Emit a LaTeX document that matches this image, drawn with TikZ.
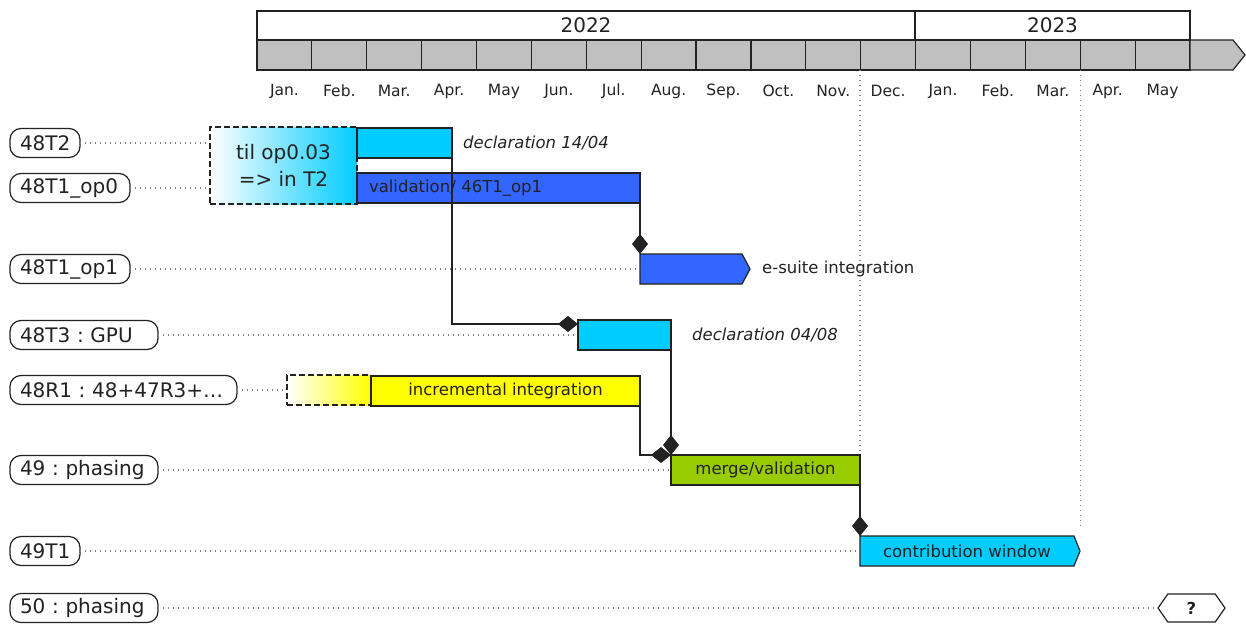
\documentclass[tikz,border=0pt]{standalone}
\usepackage{fontspec}
\setmainfont{DejaVu Sans}
\usetikzlibrary{arrows.meta,shapes.symbols,calc}
\definecolor{cyanbar}{HTML}{00CCFF}
\definecolor{bluebar}{HTML}{3366FF}
\definecolor{yellowbar}{HTML}{FFFF00}
\definecolor{greenbar}{HTML}{99CC00}
\definecolor{graycell}{HTML}{C0C0C0}
\definecolor{ink}{HTML}{222222}
\tikzset{
  rowlabel/.style={draw=ink, line width=1.2pt, rounded corners=11pt, fill=white, anchor=west,
    minimum height=29pt, inner xsep=10pt, inner ysep=0pt, outer sep=0pt, align=left, text=ink,
    font=\fontsize{20}{24}\selectfont},
  bar/.style={draw=ink, line width=1.2pt, anchor=west, minimum height=30pt, inner sep=0pt,
    outer sep=0pt, text=ink, font=\fontsize{16.5}{20}\selectfont},
  dashbox/.style={draw=ink, line width=1.2pt, dash pattern=on 6pt off 3pt, inner sep=0pt, outer sep=0pt},
  guide/.style={draw=gray, line width=1.2pt, dash pattern=on 1.2pt off 3.8pt},
  link/.style={draw=ink, line width=1.4pt, -{Diamond[length=20pt,width=16pt]}},
  cell/.style={draw=ink, line width=1.2pt, fill=graycell},
  yearbox/.style={draw=ink, line width=1.2pt, fill=white, inner sep=0pt, text=ink,
    font=\fontsize{20}{24}\selectfont},
  month/.style={text=ink, inner sep=0pt, font=\fontsize{15.5}{18}\selectfont},
  note/.style={anchor=west, inner sep=0pt, text=ink, font=\fontsize{16.5}{20}\selectfont},
}
\begin{document}
\frenchspacing
\begin{tikzpicture}[x=1pt,y=-1pt]
\useasboundingbox (0,0) rectangle (1246,624);
% timeline
\foreach \i in {0,...,16}
  \draw[cell] ({257+\i*54.882},40) rectangle ({257+(\i+1)*54.882},70);
\draw[cell] (1190,40) -- (1233,40) -- (1245,55) -- (1233,70) -- (1190,70) -- cycle;
\node[yearbox, minimum width=658pt, minimum height=29pt] (y2022) at (586,25.5) {2022};
\node[yearbox, minimum width=275pt, minimum height=29pt] (y2023) at (1052.5,25.5) {2023};
\foreach \m [count=\i from 0] in {Jan.,Feb.,Mar.,Apr.,May,Jun.,Jul.,Aug.,Sep.,Oct.,Nov.,Dec.,Jan.,Feb.,Mar.,Apr.,May}
  \node[month] (m\i) at ({257+(\i+0.5)*54.882},91) {\m};
% vertical guides
\coordinate (decTop) at (860,70);
\coordinate (decBot) at (860,536);
\coordinate (aprTop) at (1080.2,70);
\coordinate (aprBot) at (1080.2,528);
\draw[guide] (decTop) -- (decBot);
\draw[guide] (aprTop) -- (aprBot);
% row labels
\node[rowlabel, text width=50pt] (l48T2) at (10,143) {48T2};
\node[rowlabel, text width=100pt] (l48T1op0) at (10,188) {48T1\_op0};
\node[rowlabel, text width=100pt] (l48T1op1) at (10,269) {48T1\_op1};
\node[rowlabel, text width=128pt] (l48T3) at (10,335) {48T3 : GPU};
\node[rowlabel, text width=207pt] (l48R1) at (10,390) {48R1 : 48+47R3+…};
\node[rowlabel, text width=128pt] (l49) at (10,470) {49 : phasing};
\node[rowlabel, text width=50pt] (l49T1) at (10,551) {49T1};
\node[rowlabel, text width=128pt] (l50) at (10,608) {50 : phasing};
% bars
\node[dashbox, left color=white, right color=cyanbar, minimum width=147pt, minimum height=77pt,
  anchor=north west, align=center, text=ink, font=\fontsize{20}{27}\selectfont] (til) at (210,127) {til op0.03\\=> in T2};
\node[bar, fill=cyanbar, minimum width=95pt] (b48T2) at (357,143) {};
\node[bar, fill=bluebar, text width=259pt, inner xsep=12pt, align=left] (b48T1op0) at (357,188) {validation/ 46T1\_op1};
\node[bar, signal, signal to=east, signal pointer angle=124, fill=bluebar, minimum width=110pt] (b48T1op1) at (640,269) {};
\node[bar, fill=cyanbar, minimum width=93pt] (b48T3) at (578,335) {};
\node[dashbox, left color=white, right color=yellowbar, minimum width=84pt, minimum height=30pt, anchor=west] (pre48R1) at (287,390) {};
\node[bar, fill=yellowbar, minimum width=269pt] (b48R1) at (371,391) {incremental integration};
\node[bar, fill=greenbar, minimum width=189pt] (bmerge) at (671,470) {merge/validation};
\node[bar, signal, signal to=east, signal pointer angle=136, fill=cyanbar, minimum width=220pt] (bcontrib) at (860,551) {contribution window};
\node[bar, signal, signal to=east and west, signal pointer angle=110, fill=white,
  minimum width=67pt, minimum height=28pt, font=\bfseries\fontsize{16.5}{20}\selectfont] (m50) at (1158,608) {?};
% notes
\node[note, font=\itshape\fontsize{16.5}{20}\selectfont] (n48T2) at (463,143) {declaration 14/04};
\node[note] (n48T1op1) at (762,269) {e-suite integration};
\node[note, font=\itshape\fontsize{16.5}{20}\selectfont] (n48T3) at (692,335) {declaration 04/08};
% horizontal guides
\draw[guide] (l48T2.east) -- (til.west |- l48T2.east);
\draw[guide] (l48T1op0.east) -- (til.west |- l48T1op0.east);
\draw[guide] (l48T1op1.east) -- (b48T1op1.west);
\draw[guide] (l48T3.east) -- (b48T3.west);
\draw[guide] (l48R1.east) -- (pre48R1.west);
\draw[guide] (l49.east) -- (bmerge.west);
\draw[guide] (l49T1.east) -- (bcontrib.west);
\draw[guide] (l50.east) -- (m50.west);
% dependencies
\draw[link] (b48T2.south east) |- ([yshift=-4pt]b48T3.north west);
\draw[link] (b48T1op0.south east) -- (b48T1op1.north west);
\draw[link] (b48R1.south east) |- (bmerge.north west);
\draw[link] (b48T3.south east) -- (bmerge.north west);
\draw[link] (bmerge.south east) -- (bcontrib.north west);
\end{tikzpicture}
\end{document}
